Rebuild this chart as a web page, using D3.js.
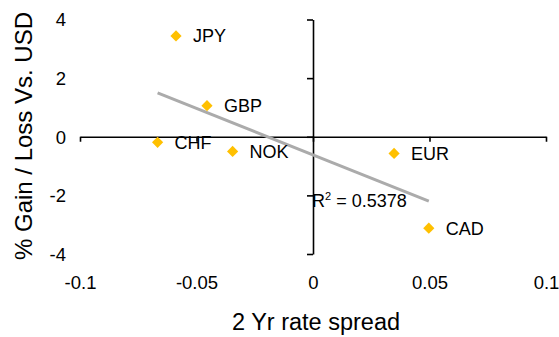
<!DOCTYPE html>
<html>
<head>
<meta charset="utf-8">
<script src="https://cdn.jsdelivr.net/npm/d3@7"></script>
<style>
  html, body { margin: 0; padding: 0; background: #fff; }
  svg { display: block; font-family: "Liberation Sans", Arial, sans-serif; }
</style>
</head>
<body>
<svg id="chart" width="559" height="337"></svg>
<script>
// Currency moves against USD vs. 2-year rate spread
const currencies = ["JPY", "GBP", "CHF", "NOK", "EUR", "CAD"];
const rateSpread = [-0.0588, -0.0455, -0.0667, -0.0345, 0.0348, 0.0497];
const fxChange   = [3.44, 1.06, -0.19, -0.50, -0.57, -3.12];

const xTicks = [-0.1, -0.05, 0, 0.05, 0.1];
const xTickLabels = ["-0.1", "-0.05", "0", "0.05", "0.1"];
const yTicks = [-4, -2, 0, 2, 4];
const yTickLabels = ["-4", "-2", "0", "2", "4"];

const xTitle = "2 Yr rate spread";
const yTitle = "% Gain / Loss Vs. USD";
const r2Value = "0.5378";

const points = currencies.map((c, i) => ({ name: c, x: rateSpread[i], y: fxChange[i] }));

const svg = d3.select("#chart");

const x = d3.scaleLinear().domain([-0.1, 0.1]).range([80, 546]);
const y = d3.scaleLinear().domain([-4, 4]).range([254, 19.5]);

const tickFont = "18.5px";
const labelFont = "18px";

// x axis crossing at y = 0, labels pushed to the bottom of the plot
const xAxis = d3.axisBottom(x)
  .tickValues(xTicks)
  .tickFormat((d, i) => xTickLabels[i])
  .tickSize(5)
  .tickSizeOuter(0);

const gx = svg.append("g")
  .attr("transform", `translate(0,${y(0)})`)
  .call(xAxis);
gx.select(".domain").attr("stroke", "#000").attr("stroke-width", 1.6);
gx.selectAll(".tick line").attr("stroke", "#000").attr("stroke-width", 1.6);
gx.selectAll(".tick text")
  .attr("fill", "#000")
  .style("font-size", tickFont)
  .attr("dy", null)
  .attr("y", 289 - y(0));

// y axis crossing at x = 0, labels on the left edge
const yAxis = d3.axisLeft(y)
  .tickValues(yTicks)
  .tickFormat((d, i) => yTickLabels[i])
  .tickSize(6)
  .tickSizeOuter(0);

const gy = svg.append("g")
  .attr("transform", `translate(${x(0)},0)`)
  .call(yAxis);
gy.select(".domain").attr("stroke", "#000").attr("stroke-width", 1.6);
gy.selectAll(".tick line").attr("stroke", "#000").attr("stroke-width", 1.6);
gy.selectAll(".tick text")
  .attr("fill", "#000")
  .style("font-size", tickFont)
  .attr("x", 66 - x(0))
  .attr("dy", "0.35em");

// Least-squares trendline over the data range
const mx = d3.mean(rateSpread), my = d3.mean(fxChange);
const sxy = d3.sum(points, p => (p.x - mx) * (p.y - my));
const sxx = d3.sum(points, p => (p.x - mx) ** 2);
const slope = sxy / sxx;
const intercept = my - slope * mx;
const [x0, x1] = d3.extent(rateSpread);

svg.append("line")
  .attr("x1", x(x0)).attr("y1", y(intercept + slope * x0))
  .attr("x2", x(x1)).attr("y2", y(intercept + slope * x1))
  .attr("stroke", "#ababab")
  .attr("stroke-width", 3);

// Diamond markers
const diamond = d3.symbol().type(d3.symbolDiamond2).size(80);
svg.append("g").selectAll("path")
  .data(points)
  .join("path")
  .attr("d", diamond)
  .attr("transform", d => `translate(${x(d.x)},${y(d.y)})`)
  .attr("fill", "#ffc000");

// Currency labels
svg.append("g").selectAll("text")
  .data(points)
  .join("text")
  .attr("x", d => x(d.x) + 17)
  .attr("y", d => y(d.y))
  .attr("dy", "0.35em")
  .style("font-size", labelFont)
  .attr("fill", "#000")
  .text(d => d.name);

// R-squared annotation
const r2 = svg.append("text")
  .attr("x", 312)
  .attr("y", 207)
  .style("font-size", labelFont)
  .attr("fill", "#000");
r2.append("tspan").text("R");
r2.append("tspan").attr("dy", -7).style("font-size", "11px").text("2");
r2.append("tspan").attr("dy", 7).text(" = " + r2Value);

// Axis titles
svg.append("text")
  .attr("x", 316)
  .attr("y", 330)
  .attr("text-anchor", "middle")
  .style("font-size", "23.5px")
  .attr("fill", "#000")
  .text(xTitle);

svg.append("text")
  .attr("transform", "translate(32,136) rotate(-90)")
  .attr("text-anchor", "middle")
  .style("font-size", "24px")
  .attr("fill", "#000")
  .text(yTitle);
</script>
</body>
</html>
